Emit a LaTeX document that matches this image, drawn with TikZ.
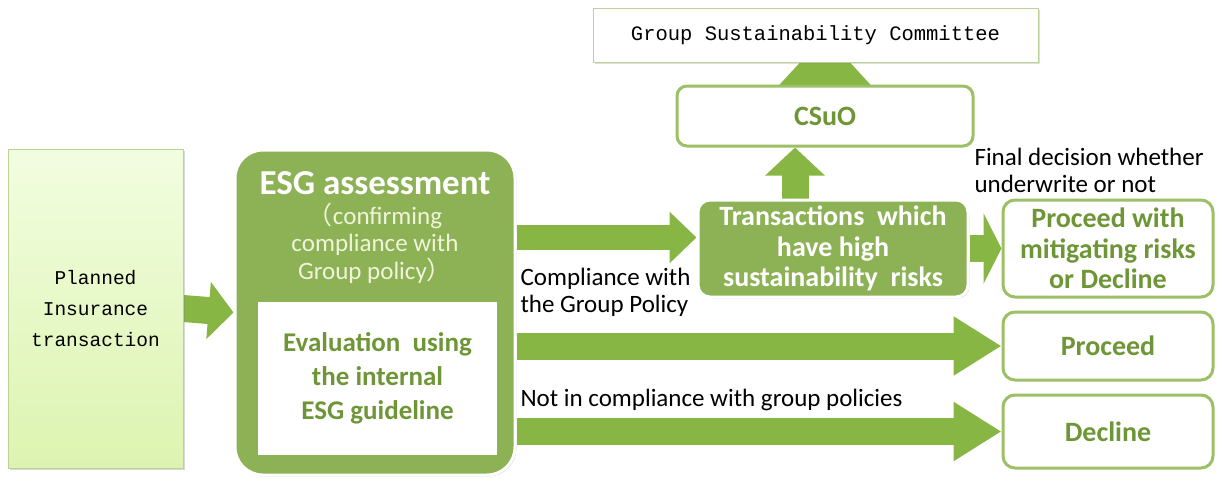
\documentclass[tikz,border=0pt]{standalone}
\usepackage{fontspec}
\setmainfont{Carlito}
\setmonofont{Liberation Mono}
\newfontfamily\cjk{Noto Sans CJK JP}
\usetikzlibrary{arrows.meta,positioning,shadows,backgrounds,calc}
\definecolor{esggreen}{HTML}{8DB255}
\definecolor{textgreen}{HTML}{6E9636}
\definecolor{boxline}{HTML}{9CC066}
\definecolor{arrowgreen}{HTML}{88B644}
\definecolor{subtext}{HTML}{F1F4DA}
\definecolor{plantop}{HTML}{F2FDE0}
\definecolor{planbot}{HTML}{DCF4B0}
\tikzset{
  greenbox/.style={draw=white, line width=3pt, fill=esggreen, rounded corners=#1,
    drop shadow={opacity=0.3, shadow xshift=1.5pt, shadow yshift=-1.5pt}},
  whitebox/.style={draw=boxline, line width=3pt, fill=white, rounded corners=12pt,
    minimum width=210pt, text=textgreen, align=center,
    font=\fontsize{28}{30.5}\selectfont\bfseries},
  bigarrow/.style={draw=arrowgreen, line width=27pt, -{Triangle[length=#1, width=56pt]}},
  label/.style={anchor=west, align=left, font=\fontsize{25}{27}\selectfont},
}
\begin{document}
\begin{tikzpicture}[x=1pt, y=-1pt]
\useasboundingbox (0,0) rectangle (1218,479);
% source
\node[draw=boxline!70, top color=plantop, bottom color=planbot,
  minimum width=175pt, minimum height=319pt, align=center,
  font=\ttfamily\fontsize{19.5}{31}\selectfont,
  drop shadow={opacity=0.3, shadow xshift=1.5pt, shadow yshift=-1.5pt}]
  (plan) at (95.5,308.5) {Planned\\Insurance\\transaction};
%
\node[greenbox=28pt, minimum width=280pt, minimum height=325pt] (esg) at (375,312.5) {};
\node[text=white, font=\fontsize{35}{38}\selectfont\bfseries] (esgtitle) at (375,183) {ESG assessment};
\node[text=subtext, align=center, font=\fontsize{25}{27.5}\selectfont] (esgsub) at (375,243)
  {{\cjk （}confirming\\compliance with\\Group policy{\cjk ）}};
\node[fill=white, minimum width=239pt, minimum height=153pt, align=center, text=textgreen,
  font=\fontsize{27}{34}\selectfont\bfseries] (guide) at (377.5,378.5)
  {Evaluation\ \ using\\the internal\\ESG guideline};
%
\node[greenbox=12pt, minimum width=270pt, minimum height=97pt, align=center, text=white,
  font=\fontsize{28}{30.5}\selectfont\bfseries] (trans) at (833,248.5)
  {Transactions\ \ which\\have high\\sustainability\ \ risks};
%
\node[whitebox, minimum width=296pt, minimum height=60pt, rounded corners=10pt] (csuo) at (825,116) {CSuO};
\node[draw=boxline!70, fill=white, minimum width=445pt, minimum height=54pt,
  font=\ttfamily\fontsize{20.5}{22}\selectfont,
  drop shadow={opacity=0.25, shadow xshift=1.5pt, shadow yshift=-1.5pt}] (gsc) at (815.5,35)
  {Group Sustainability Committee};
%
\node[whitebox, minimum height=97pt] (mitig) at (1108,248.5) {Proceed with\\mitigating risks\\or Decline};
\node[whitebox, minimum height=68pt] (proc) at (1108,346) {Proceed};
\node[whitebox, minimum height=73pt] (decl) at (1108,431.5) {Decline};
%
\node[label] (comply) at (517,292) {Compliance with\\the Group Policy};
\node[label] (final) at (971,170) {Final decision whether\\underwrite or not};
\node[label] (notcomply) at (517,400) {Not in compliance with group policies};
%
\begin{scope}[on background layer]
\draw[bigarrow=25pt] (plan.east) -- (esg.west);
\draw[bigarrow=27pt, line width=25pt, -{Triangle[length=27pt, width=50pt]}]
  ($(esg.east |- trans.west)+(0,-11)$) -- ($(trans.west)+(0,-11)$);
\draw[bigarrow=48pt] (esg.east |- proc.west) -- (proc.west);
\draw[bigarrow=48pt] (esg.east |- decl.west) -- (decl.west);
\draw[bigarrow=18pt, -{Triangle[length=18pt, width=70pt]}] (trans.east) -- (mitig.west);
\draw[bigarrow=28pt, -{Triangle[length=28pt, width=58pt]}]
  ($(trans.north)+(-38,0)$) -- ($(csuo.south)+(-30,0)$);
\draw[bigarrow=51pt, -{Triangle[length=51pt, width=90pt]}] (csuo.center) -- (csuo.center |- gsc.center);
\end{scope}
\end{tikzpicture}
\end{document}
